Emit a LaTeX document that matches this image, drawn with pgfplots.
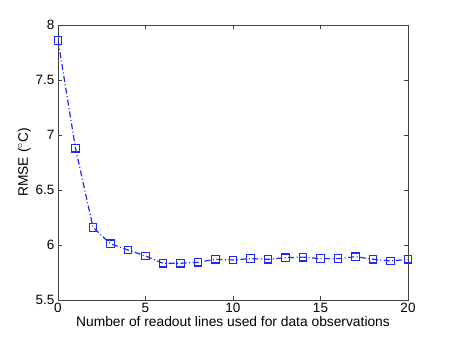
\documentclass[border=0pt]{standalone}
\usepackage{fontspec}
\setmainfont{Liberation Sans}
\usepackage{pgfplots}
\pgfplotsset{compat=1.18}
\definecolor{mblue}{RGB}{30,40,255}

\begin{document}
\begin{tikzpicture}[x=1pt,y=1pt]
\begin{axis}[at={(0,0)},anchor=south west,
  width=350pt,height=275pt,scale only axis,
  xmin=0,xmax=20,ymin=5.5,ymax=8,
  xtick={0,5,10,15,20},ytick={5.5,6,6.5,7,7.5,8},
  tick align=inside,major tick length=4pt,
  axis line style={black!75,line width=0.6pt},
  tick style={black!75,line width=0.6pt},
  /pgf/number format/assume math mode=true,
  tick label style={font=\fontsize{13.5}{15}\selectfont},
  yticklabel style={/pgf/number format/fixed,/pgf/number format/precision=1},
  label style={font=\fontsize{13.8}{15}\selectfont},
  xlabel={Number of readout lines used for data observations},
  ylabel={RMSE ($^\circ$C)},
  xlabel style={yshift=3pt},
  ylabel style={yshift=-2pt}]
\addplot[mblue,line width=1.2pt,dash pattern=on 6pt off 2.5pt on 1pt off 2.5pt,
  mark=square,mark size=3.8pt,mark options={solid,line width=1.3pt,draw=mblue,fill=none}]
 coordinates {
 (0,7.86) (1,6.88) (2,6.16) (3,6.01) (4,5.955) (5,5.90) (6,5.834)
 (7,5.834) (8,5.843) (9,5.87) (10,5.864) (11,5.876) (12,5.87)
 (13,5.885) (14,5.89) (15,5.876) (16,5.876) (17,5.894) (18,5.87)
 (19,5.855) (20,5.87)};
\end{axis}
\useasboundingbox (-58,-38) rectangle (392,300);
\end{tikzpicture}
\end{document}
